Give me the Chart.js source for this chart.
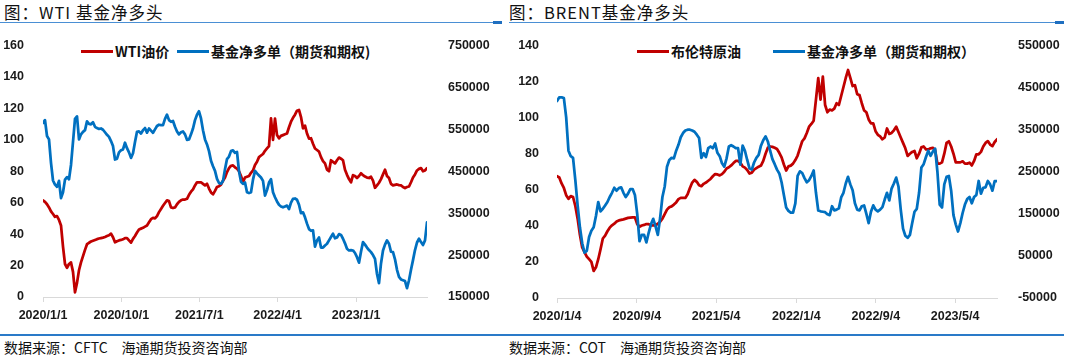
<!DOCTYPE html>
<html>
<head>
<meta charset="utf-8">
<script src="https://cdn.jsdelivr.net/npm/chart.js@4.4.0/dist/chart.umd.min.js"></script>
<style>
  body { margin: 0; width: 1080px; height: 360px; background: #fff; position: relative; overflow: hidden;
         font-family: "Noto Sans CJK SC", "Liberation Sans", sans-serif; color: #111; }
  .abs { position: absolute; }
  .title { top: 2px; font-size: 16.5px; line-height: 20px; letter-spacing: 1px; }
  .rule { top: 22px; height: 1px; background: #4a8fd4; }
  .tab { top: 21px; height: 3px; width: 9px; background: #1f6fc0; }
  .footRule { top: 334px; left: 0; width: 1064px; height: 2px; background: #2a7ac8; }
  .foot { top: 338px; font-size: 14px; line-height: 18px; white-space: nowrap; }
  .foot span { margin-left: 14px; }
  .sw { height: 3px; width: 32px; }
  .lg { font-size: 14px; line-height: 18px; top: 42px; font-weight: bold; white-space: nowrap; }
  canvas { position: absolute; }
</style>
</head>
<body>
<div class="abs title" style="left:4px">图：WTI 基金净多头</div>
<div class="abs rule" style="left:0;width:493px"></div>
<div class="abs tab" style="left:493px"></div>
<div class="abs title" style="left:509px">图：BRENT基金净多头</div>
<div class="abs rule" style="left:509px;width:546px"></div>
<div class="abs tab" style="left:1055px"></div>

<div class="abs sw" style="left:81px;top:50px;background:#c00000"></div>
<div class="abs lg" style="left:115px">WTI油价</div>
<div class="abs sw" style="left:177px;top:50px;background:#0070c0"></div>
<div class="abs lg" style="left:211px">基金净多单（期货和期权)</div>

<div class="abs sw" style="left:637px;top:50px;background:#c00000"></div>
<div class="abs lg" style="left:671px">布伦特原油</div>
<div class="abs sw" style="left:773px;top:50px;background:#0070c0"></div>
<div class="abs lg" style="left:807px">基金净多单（期货和期权）</div>

<canvas id="wtiChart" width="505" height="305" style="left:0;top:25px"></canvas>
<canvas id="brentChart" width="560" height="305" style="left:510px;top:25px"></canvas>

<div class="abs footRule"></div>
<div class="abs foot" style="left:4px">数据来源：CFTC<span>海通期货投资咨询部</span></div>
<div class="abs foot" style="left:509px">数据来源：COT<span>海通期货投资咨询部</span></div>

<script>
// weekly data, first point on the start date
const weekDays = 7;

// WTI
const wtiStart = "2020/1/1";
const wtiTickDates = ["2020/1/1", "2020/10/1", "2021/7/1", "2022/4/1", "2023/1/1"];
const wtiPrice = [
  61.4, 60.5, 59, 57, 54.5, 52.8, 51, 51.5, 49, 45.5,
  32, 21, 18.6, 21, 22, 16, 3, 9, 17, 22,
  26, 30, 33.6, 34.5, 35.3, 35.8, 36.3, 36.8, 37.2, 37.5,
  37.8, 38.2, 38.8, 39.3, 40.3, 38, 34.8, 35.5, 36, 36.3,
  36.7, 37.5, 37.5, 36, 34.6, 37, 38.8, 41, 43, 43.5,
  44, 44.8, 45.5, 47.5, 49.5, 50.3, 50, 51.5, 54, 56,
  58, 59.8, 61.5, 61, 57, 56.6, 57, 59, 60.5, 61.5,
  62, 62, 62.5, 65, 67, 68.5, 71, 73, 73, 73,
  72, 71, 72, 69, 66.5, 65.3, 67.5, 70, 70.5, 71.5,
  74, 76, 79.5, 82, 83.5, 83.7, 82.5, 81.6, 80, 77,
  73, 76, 76.5, 77, 79, 80.5, 84, 86, 89, 90,
  91, 93, 94.5, 96, 113.7, 100, 113.5, 103, 101, 102.5,
  103, 103.5, 104, 108, 111.5, 114, 116, 118.5, 119, 114.5,
  107.3, 109, 104, 100.8, 101, 97.5, 94.5, 93.5, 92.5, 89,
  86.5, 85, 81, 80, 87, 86, 85, 87, 88.7, 88,
  87, 81, 77.7, 75, 73, 77.5, 77, 75.7, 77, 78.7,
  77.5, 76.6, 76, 75.7, 76.5, 74, 69.5, 71, 72.7, 75,
  78, 81, 77, 75.7, 72, 71, 71.3, 71.6, 71.2, 71,
  70, 69.3, 70, 70.3, 73, 76, 78, 80.5, 81.5, 82,
  80, 80.5, 82
];
const wtiNetLong = [
  565000, 572000, 534000, 526000, 470000, 428000, 418000, 413000, 427000, 386000,
  400000, 430000, 436000, 431000, 465000, 520000, 575000, 581000, 526000, 538000,
  544000, 548000, 569000, 563000, 562000, 567000, 556000, 553000, 551000, 552000,
  549000, 543000, 537000, 532000, 522000, 510000, 478000, 480000, 495000, 500000,
  502000, 518000, 505000, 495000, 482000, 493000, 520000, 544000, 545000, 540000,
  548000, 553000, 542000, 552000, 547000, 542000, 550000, 558000, 561000, 560000,
  560000, 575000, 585000, 572000, 568000, 570000, 556000, 545000, 538000, 543000,
  545000, 538000, 525000, 526000, 538000, 552000, 572000, 585000, 593000, 576000,
  548000, 526000, 514000, 498000, 475000, 462000, 451000, 432000, 422000, 420000,
  427000, 455000, 479000, 485000, 498000, 500000, 494000, 496000, 450000, 425000,
  420000, 423000, 400000, 398000, 400000, 430000, 451000, 445000, 440000, 435000,
  427000, 392000, 405000, 423000, 431000, 400000, 388000, 378000, 370000, 366000,
  364000, 366000, 368000, 360000, 375000, 384000, 385000, 382000, 370000, 350000,
  352000, 340000, 325000, 312000, 308000, 309000, 270000, 285000, 292000, 268000,
  268000, 273000, 277000, 285000, 293000, 301000, 290000, 292000, 300000, 298000,
  289000, 278000, 265000, 261000, 262000, 261000, 255000, 245000, 232000, 258000,
  281000, 275000, 268000, 262000, 257000, 250000, 241000, 205000, 183000, 230000,
  261000, 275000, 285000, 277000, 258000, 257000, 240000, 215000, 198000, 192000,
  190000, 188000, 171000, 190000, 215000, 238000, 262000, 280000, 289000, 281000,
  274000, 285000, 328000
];

// Brent
const brentStart = "2020/1/4";
const brentTickDates = ["2020/1/4", "2020/9/4", "2021/5/4", "2022/1/4", "2022/9/4", "2023/5/4"];
const brentPrice = [
  67.5, 66.8, 63.5, 61, 57, 55, 56.5, 56, 51, 44,
  35, 28, 25.5, 23, 21.5, 20, 15, 17, 21.5, 27,
  33, 34.6, 37, 39, 40.3, 41.2, 42.4, 43, 43.3, 43.6,
  44, 44.4, 44.6, 44.7, 44.7, 41, 39.5, 40.2, 40.5, 41,
  41, 40.2, 40.3, 40.3, 41.2, 42.3, 44, 46.5, 49, 50.3,
  50.8, 51.8, 53, 54.8, 55.5, 55.5, 55.5, 57.5, 61, 64,
  65.5, 64.4, 62.5, 62, 63.3, 64, 65, 66, 67.5, 68.7,
  68.5, 68, 68.7, 70, 71.8, 72.5, 73.5, 74.8, 76, 76,
  75, 73, 72.3, 71, 69, 69.5, 71.2, 72, 72.8, 73.4,
  76, 80, 83.3, 84, 83.8, 83.3, 82.6, 80.5, 78, 74,
  70.7, 73, 73.4, 74.5, 76.5, 79, 83, 86.9, 88.5, 91.5,
  95, 96.5, 98.3, 110, 121.9, 110, 122.8, 107, 103, 104.5,
  104, 105, 108, 107, 112, 117, 122, 126.4, 122, 117.5,
  118, 113, 112.5, 108, 104, 103, 99, 96.8, 96.8, 92.5,
  90.5, 89.6, 88, 89, 94, 91, 91.5, 93, 95, 92,
  89, 86, 83, 78.8, 80, 81, 81.5, 77.5, 80, 83.5,
  84, 82.4, 82.4, 83, 83.3, 82, 74.5, 74.5, 75.2, 80,
  86, 86.9, 84, 80, 75.2, 75.2, 75.2, 75.8, 74.5, 74.5,
  75, 73.5, 76, 79.7, 79.7, 81, 84, 86, 87, 85.1,
  84.2, 86.5, 88
];
const brentNetLong = [
  418000, 427000, 427000, 425000, 380000, 300000, 287000, 283000, 230000, 170000,
  118000, 80000, 58000, 62000, 95000, 110000, 118000, 145000, 178000, 156000,
  162000, 170000, 178000, 190000, 200000, 212000, 205000, 211000, 213000, 200000,
  190000, 198000, 209000, 209000, 195000, 150000, 85000, 100000, 100000, 82000,
  105000, 125000, 138000, 120000, 100000, 140000, 190000, 215000, 262000, 278000,
  283000, 282000, 300000, 314000, 332000, 342000, 348000, 350000, 350000, 348000,
  345000, 338000, 330000, 283000, 294000, 285000, 306000, 310000, 306000, 317000,
  295000, 287000, 270000, 262000, 282000, 310000, 313000, 310000, 306000, 306000,
  267000, 312000, 300000, 278000, 258000, 255000, 272000, 283000, 290000, 312000,
  325000, 334000, 322000, 300000, 280000, 268000, 255000, 246000, 225000, 195000,
  165000, 157000, 153000, 153000, 175000, 240000, 251000, 247000, 235000, 225000,
  230000, 240000, 253000, 200000, 158000, 156000, 155000, 154000, 149000, 147000,
  168000, 158000, 160000, 163000, 189000, 200000, 222000, 238000, 220000, 206000,
  175000, 160000, 158000, 168000, 170000, 150000, 128000, 155000, 170000, 160000,
  156000, 160000, 166000, 184000, 200000, 182000, 210000, 222000, 236000, 215000,
  160000, 115000, 98000, 93000, 100000, 128000, 155000, 162000, 200000, 260000,
  268000, 285000, 300000, 288000, 298000, 305000, 250000, 172000, 165000, 220000,
  238000, 240000, 205000, 147000, 125000, 108000, 128000, 152000, 172000, 185000,
  190000, 175000, 190000, 195000, 228000, 198000, 212000, 213000, 228000, 220000,
  205000, 228000, 228000
];

const red = "#c00000";
const blue = "#0070c0";
const tickFont = { family: "Liberation Sans, Arial, sans-serif", size: 12.5, weight: "bold" };
const tickColor = "#1a1a1a";

function parseDay(s) {
  const [y, m, d] = s.split("/").map(Number);
  return Date.UTC(y, m - 1, d) / 86400000;
}

function toPoints(values) {
  return values.map((v, i) => ({ x: i * weekDays, y: v }));
}

function makeChart(id, cfg) {
  const tickDays = cfg.tickDates.map(d => parseDay(d) - parseDay(cfg.start));
  return new Chart(id, {
    type: "line",
    data: {
      datasets: [{
        label: cfg.priceLabel,
        data: toPoints(cfg.price),
        yAxisID: "y",
        borderColor: red,
        borderWidth: 2.75,
        order: 2,
      }, {
        label: "基金净多单（期货和期权)",
        data: toPoints(cfg.net),
        yAxisID: "y1",
        borderColor: blue,
        borderWidth: 2.75,
        order: 1,
      }]
    },
    options: {
      responsive: false,
      animation: false,
      devicePixelRatio: 1,
      layout: { padding: { top: cfg.padTop, left: 0, right: 0, bottom: 0 } },
      elements: {
        point: { radius: 0 },
        line: { tension: 0, borderJoinStyle: "round", borderCapStyle: "round" },
      },
      plugins: { legend: { display: false }, tooltip: { enabled: false } },
      scales: {
        x: {
          type: "linear",
          min: 0,
          max: (cfg.price.length - 1) * weekDays,
          afterBuildTicks: scale => { scale.ticks = tickDays.map(v => ({ value: v })); },
          afterFit: scale => { scale.height = cfg.xHeight; },
          grid: { drawOnChartArea: false, drawTicks: true, tickLength: 5, color: "#d9d9d9" },
          border: { color: "#d9d9d9", width: 1 },
          ticks: {
            autoSkip: false, maxRotation: 0, padding: 6,
            font: tickFont, color: tickColor,
            callback: (value, index) => cfg.tickDates[index],
          },
        },
        y: {
          position: "left",
          min: cfg.yMin, max: cfg.yMax,
          afterFit: scale => { scale.width = cfg.leftWidth; },
          grid: { display: false },
          border: { display: false },
          ticks: { stepSize: 20, padding: cfg.leftPad, font: tickFont, color: tickColor },
        },
        y1: {
          position: "right",
          min: cfg.y1Min, max: cfg.y1Max,
          afterFit: scale => { scale.width = cfg.rightWidth; },
          grid: { display: false },
          border: { display: false },
          ticks: {
            stepSize: 100000, padding: 13, font: tickFont, color: tickColor,
            callback: v => String(v),
          },
        },
      },
    },
  });
}

makeChart("wtiChart", {
  start: wtiStart, tickDates: wtiTickDates, price: wtiPrice, net: wtiNetLong,
  priceLabel: "WTI油价", yMin: 0, yMax: 160, y1Min: 150000, y1Max: 750000,
  padTop: 19, xHeight: 33, leftWidth: 43, rightWidth: 78, leftPad: 11,
});

makeChart("brentChart", {
  start: brentStart, tickDates: brentTickDates, price: brentPrice, net: brentNetLong,
  priceLabel: "布伦特原油", yMin: 0, yMax: 140, y1Min: -50000, y1Max: 550000,
  padTop: 13, xHeight: 32, leftWidth: 47, rightWidth: 73, leftPad: 10,
});
</script>
</body>
</html>
